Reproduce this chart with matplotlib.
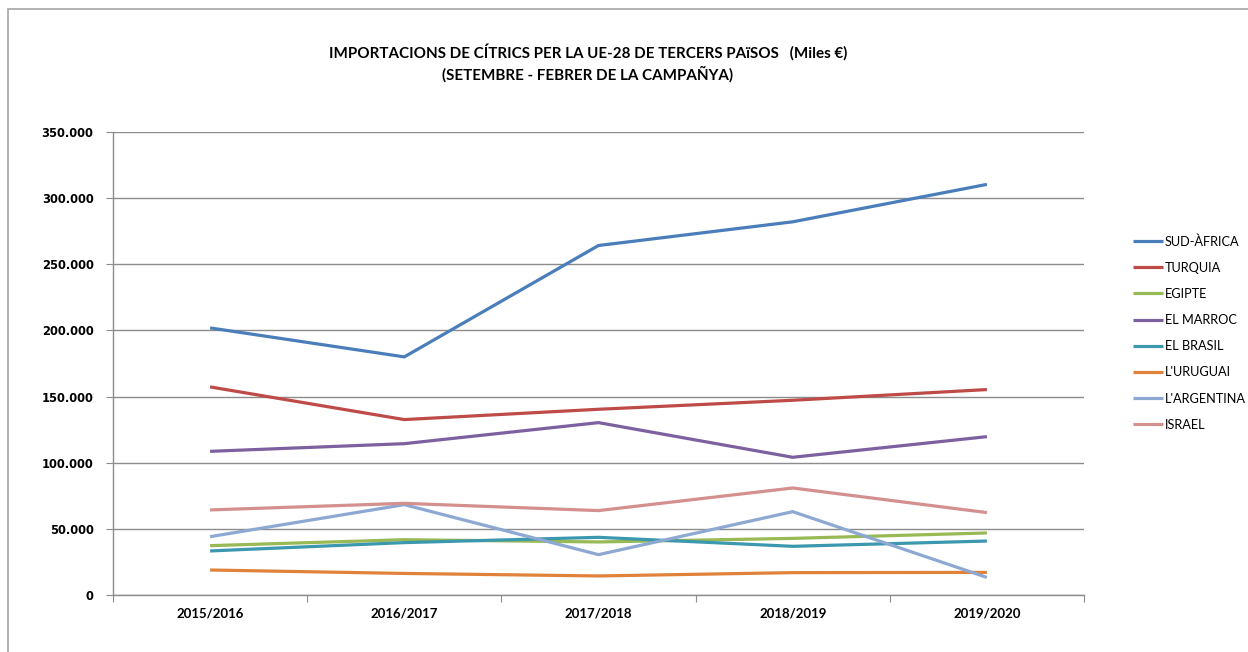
import matplotlib
matplotlib.use("Agg")
import matplotlib.pyplot as plt
from matplotlib.ticker import FuncFormatter, FixedLocator, NullFormatter
from matplotlib.patches import Rectangle

campaigns = ["2015/2016", "2016/2017", "2017/2018", "2018/2019", "2019/2020"]
sud_africa = [201900, 180000, 264200, 282100, 310400]
turquia = [157300, 132600, 140400, 147200, 155300]
egipte = [37300, 41800, 40100, 42800, 46900]
el_marroc = [108600, 114400, 130300, 104100, 119700]
el_brasil = [33300, 39600, 43600, 36800, 40800]
l_uruguai = [18900, 16300, 14400, 16900, 17100]
l_argentina = [44100, 68300, 30500, 63000, 13300]
israel = [64300, 69300, 63800, 80900, 62300]

series_names = ["SUD-ÀFRICA", "TURQUIA", "EGIPTE", "EL MARROC", "EL BRASIL",
                "L'URUGUAI", "L'ARGENTINA", "ISRAEL"]
series_values = [sud_africa, turquia, egipte, el_marroc, el_brasil,
                 l_uruguai, l_argentina, israel]
colors = ["#4A7EBB", "#BE4B48", "#98B954", "#7D60A0", "#3C98AE",
          "#E0823A", "#8DA8D3", "#D4908E"]
yticks = [0, 50000, 100000, 150000, 200000, 250000, 300000, 350000]

W, H = 1248, 652
fig = plt.figure(figsize=(W / 100, H / 100), dpi=100)
fig.patch.set_facecolor("white")

# outer chart border (only left/top visible)
fig.add_artist(Rectangle((8 / W, -0.1), 1.2, 1 - 9 / H + 0.1, transform=fig.transFigure,
                         fill=False, edgecolor="#A6A6A6", linewidth=1.2))

ax = fig.add_axes([113 / W, 1 - 595 / H, (1084 - 113) / W, (595 - 132) / H])
x = list(range(len(campaigns)))
handles = []
for name, vals, c in zip(series_names, series_values, colors):
    ln, = ax.plot(x, vals, color=c, linewidth=2.3, solid_capstyle="butt",
                  solid_joinstyle="miter", label=name)
    handles.append(ln)

ax.set_xlim(-0.5, len(campaigns) - 0.5)
ax.set_ylim(0, 350000)
ax.set_yticks(yticks)
ax.yaxis.set_major_formatter(FuncFormatter(lambda v, p: f"{int(v):,}".replace(",", ".")))
ax.grid(axis="y", color="#8C8C8C", linewidth=1.0)
ax.set_axisbelow(True)

ax.xaxis.set_major_locator(FixedLocator([i - 0.5 for i in range(len(campaigns) + 1)]))
ax.xaxis.set_major_formatter(NullFormatter())
ax.xaxis.set_minor_locator(FixedLocator(x))
ax.set_xticklabels(campaigns, minor=True)
ax.tick_params(axis="x", which="minor", length=0, pad=9)
ax.tick_params(axis="x", which="major", length=5, direction="out", color="#8C8C8C")
ax.tick_params(axis="y", length=5, direction="out", color="#8C8C8C", pad=9)
for lab in ax.get_xticklabels(minor=True):
    lab.set_fontfamily("Lato")
    lab.set_fontweight("bold")
    lab.set_fontsize(9.5)
for lab in ax.get_yticklabels():
    lab.set_fontfamily("DejaVu Sans")
    lab.set_fontweight("bold")
    lab.set_fontsize(8.3)

for s in ["top", "right"]:
    ax.spines[s].set_visible(False)
for s in ["left", "bottom"]:
    ax.spines[s].set_color("#8C8C8C")
    ax.spines[s].set_linewidth(1.0)

fig.text(588 / W, 1 - 52 / H, "IMPORTACIONS DE CÍTRICS PER LA UE-28 DE TERCERS PAïSOS   (Miles €)",
         ha="center", va="center", fontfamily="Lato", fontweight="bold", fontsize=10.9)
fig.text(588 / W, 1 - 74 / H, "(SETEMBRE - FEBRER DE LA CAMPAÑYA)",
         ha="center", va="center", fontfamily="Lato", fontweight="bold", fontsize=10.9)

leg = fig.legend(handles=handles, loc="upper left", bbox_to_anchor=(1133 / W, 1 - 235 / H),
                 frameon=False, prop={"family": "Lato", "size": 9.2},
                 handlelength=2.35, handletextpad=0.15, labelspacing=1.11, borderpad=0,
                 borderaxespad=0)

fig.savefig("out.png", dpi=100)
